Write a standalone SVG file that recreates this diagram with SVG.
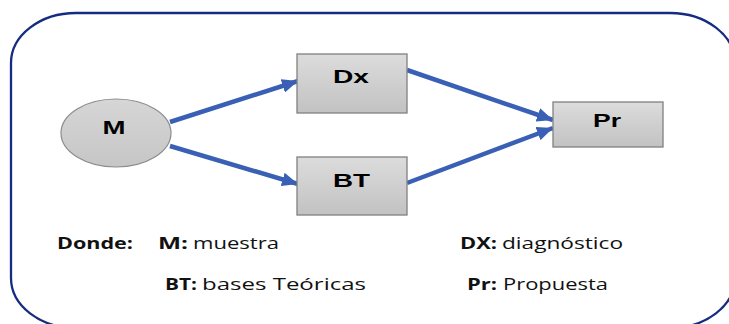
<svg xmlns="http://www.w3.org/2000/svg" width="729" height="324" viewBox="0 0 729 324">
  <defs>
    <linearGradient id="boxGrad" x1="0" y1="0" x2="0" y2="1">
      <stop offset="0" stop-color="#dcdcdc"/>
      <stop offset="1" stop-color="#c2c2c2"/>
    </linearGradient>
    <linearGradient id="ellGrad" x1="0" y1="0" x2="0" y2="1">
      <stop offset="0" stop-color="#d6d6d6"/>
      <stop offset="1" stop-color="#c6c6c6"/>
    </linearGradient>
    <marker id="head" markerUnits="userSpaceOnUse" viewBox="0 0 16 14" markerWidth="16" markerHeight="14" refX="16" refY="7" orient="auto">
      <path d="M0,0 L16,7 L0,14 z" fill="#3a60b6"/>
    </marker>
  </defs>
  <style>
    .frame { fill: #ffffff; stroke: #152c80; stroke-width: 2.3; }
    .box { fill: url(#boxGrad); stroke: #808080; stroke-width: 1.3; }
    .ell { fill: url(#ellGrad); stroke: #8c8c8c; stroke-width: 1.2; }
    .lbl { font-family: "Liberation Sans", Arial, sans-serif; font-weight: bold; font-size: 19px; fill: #000000; text-anchor: middle; }
    .conn { stroke: #3a60b6; stroke-width: 4.5; fill: none; marker-end: url(#head); }
    .leg { font-family: "Open Sans", "Liberation Sans", sans-serif; font-size: 15.5px; fill: #111111; }
    .b { font-weight: bold; }
  </style>
  <rect class="frame" x="11" y="13" width="724" height="315" rx="65" ry="50"/>

  <g id="connectors">
    <line class="conn" x1="170" y1="122" x2="298" y2="81"/>
    <line class="conn" x1="170" y1="146" x2="298" y2="184"/>
    <line class="conn" x1="407" y1="70" x2="553" y2="120"/>
    <line class="conn" x1="407" y1="183" x2="553" y2="128"/>
  </g>

  <g id="node-M">
    <ellipse class="ell" cx="116" cy="133" rx="55" ry="34"/>
    <text class="lbl" x="114" y="134" textLength="23" lengthAdjust="spacingAndGlyphs">M</text>
  </g>
  <g id="node-Dx">
    <rect class="box" x="297" y="54" width="110" height="59"/>
    <text class="lbl" x="351" y="83" textLength="36" lengthAdjust="spacingAndGlyphs">Dx</text>
  </g>
  <g id="node-BT">
    <rect class="box" x="297" y="157" width="110" height="58"/>
    <text class="lbl" x="351.5" y="187" textLength="37" lengthAdjust="spacingAndGlyphs">BT</text>
  </g>
  <g id="node-Pr">
    <rect class="box" x="553" y="102" width="110" height="45"/>
    <text class="lbl" x="607" y="127" textLength="28" lengthAdjust="spacingAndGlyphs">Pr</text>
  </g>

  <g id="legend">
    <text class="leg b" x="57" y="249" textLength="76" lengthAdjust="spacingAndGlyphs">Donde:</text>
    <text class="leg b" x="158" y="249" textLength="30" lengthAdjust="spacingAndGlyphs">M:</text>
    <text class="leg" x="193" y="249" textLength="86" lengthAdjust="spacingAndGlyphs">muestra</text>
    <text class="leg b" x="460" y="249" textLength="37" lengthAdjust="spacingAndGlyphs">DX:</text>
    <text class="leg" x="502" y="249" textLength="121" lengthAdjust="spacingAndGlyphs">diagnóstico</text>
    <text class="leg b" x="165" y="290" textLength="32" lengthAdjust="spacingAndGlyphs">BT:</text>
    <text class="leg" x="202" y="290" textLength="164" lengthAdjust="spacingAndGlyphs">bases Teóricas</text>
    <text class="leg b" x="467" y="290" textLength="30" lengthAdjust="spacingAndGlyphs">Pr:</text>
    <text class="leg" x="503" y="290" textLength="105" lengthAdjust="spacingAndGlyphs">Propuesta</text>
  </g>
</svg>
